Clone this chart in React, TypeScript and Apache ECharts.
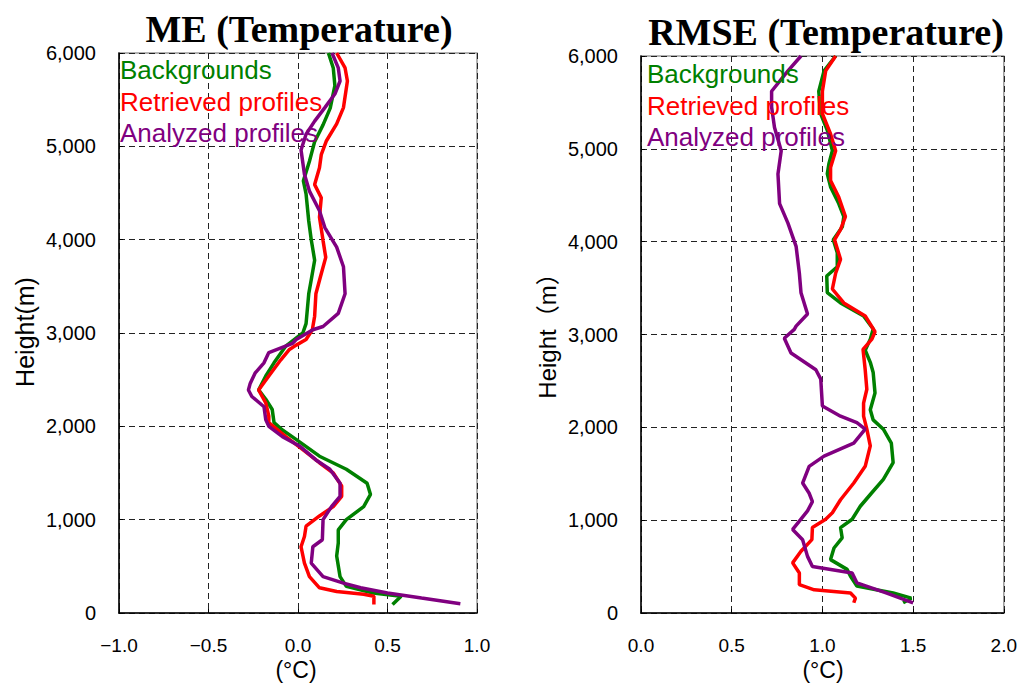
import React, { useEffect, useRef } from "react";
import * as echarts from "echarts";

// Profiles: [temperature statistic (°C), height (m)], top to bottom
const meBackgrounds: [number, number][] = [
  [0.17, 6000], [0.197, 5840], [0.206, 5650], [0.18, 5410], [0.14, 5230], [0.093, 5050],
  [0.064, 4840], [0.03, 4630], [0.045, 4490], [0.06, 4200], [0.074, 4000], [0.093, 3780],
  [0.074, 3570], [0.06, 3420], [0.045, 3100], [0.027, 3000], [-0.068, 2860], [-0.134, 2680],
  [-0.18, 2540], [-0.22, 2390], [-0.18, 2290], [-0.144, 2180], [-0.134, 2040], [-0.087, 1960],
  [-0.011, 1860], [0.12, 1680], [0.27, 1540], [0.386, 1390], [0.405, 1270], [0.367, 1140],
  [0.27, 1000], [0.225, 890], [0.225, 750], [0.216, 610], [0.235, 390], [0.27, 285],
  [0.42, 215], [0.576, 180], [0.528, 90],
];
const meRetrieved: [number, number][] = [
  [0.216, 6000], [0.263, 5840], [0.276, 5700], [0.254, 5415], [0.216, 5240], [0.159, 5060],
  [0.13, 4910], [0.12, 4770], [0.093, 4590], [0.13, 4450], [0.12, 4240], [0.14, 3990],
  [0.155, 3810], [0.125, 3600], [0.1, 3420], [0.093, 3180], [0.08, 3035], [0.045, 2930],
  [-0.01, 2870], [-0.05, 2820], [-0.097, 2710], [-0.163, 2540], [-0.22, 2390], [-0.18, 2250],
  [-0.163, 2110], [-0.163, 2040], [-0.068, 1890], [0.027, 1750], [0.12, 1610], [0.197, 1500],
  [0.244, 1360], [0.244, 1250], [0.197, 1140], [0.12, 1040], [0.045, 930], [0.036, 820],
  [0.017, 710], [0.036, 535], [0.064, 390], [0.12, 270], [0.216, 230], [0.367, 200],
  [0.424, 180], [0.424, 90],
];
const meAnalyzed: [number, number][] = [
  [0.19, 6000], [0.225, 5840], [0.235, 5700], [0.206, 5560], [0.15, 5415], [0.093, 5270],
  [0.045, 5130], [0.017, 4960], [0.036, 4700], [0.064, 4520], [0.12, 4310], [0.15, 4130],
  [0.216, 3920], [0.254, 3710], [0.263, 3420], [0.225, 3210], [0.14, 3070], [0.083, 3035],
  [-0.01, 2930], [-0.03, 2890], [-0.163, 2790], [-0.19, 2680], [-0.24, 2570], [-0.267, 2460],
  [-0.277, 2390], [-0.258, 2320], [-0.19, 2210], [-0.18, 2070], [-0.163, 2000], [-0.087, 1890],
  [0.008, 1790], [0.1, 1640], [0.178, 1540], [0.235, 1390], [0.235, 1250], [0.187, 1140],
  [0.14, 1000], [0.136, 785], [0.083, 710], [0.074, 535], [0.14, 390], [0.254, 320],
  [0.35, 270], [0.5, 215], [0.69, 160], [0.907, 100],
];

const rmseBackgrounds: [number, number][] = [
  [1.073, 6000], [1.009, 5840], [0.98, 5620], [0.99, 5380], [1.027, 5200], [1.055, 4980],
  [1.036, 4840], [1.027, 4730], [1.045, 4590], [1.09, 4410], [1.118, 4270], [1.11, 4160],
  [1.06, 4020], [1.082, 3880], [1.082, 3730], [1.024, 3630], [1.027, 3450], [1.1, 3340],
  [1.227, 3200], [1.28, 3060], [1.264, 2950], [1.236, 2830], [1.264, 2700], [1.28, 2590],
  [1.29, 2370], [1.264, 2190], [1.28, 2080], [1.336, 1980], [1.38, 1830], [1.39, 1620],
  [1.336, 1440], [1.27, 1290], [1.209, 1150], [1.164, 1010], [1.1, 920], [1.109, 810],
  [1.064, 700], [1.045, 575], [1.136, 470], [1.155, 395], [1.19, 290], [1.39, 215],
  [1.49, 160], [1.445, 110],
];
const rmseRetrieved: [number, number][] = [
  [1.073, 6000], [1.018, 5840], [1.0, 5620], [1.0, 5380], [1.045, 5160], [1.073, 4980],
  [1.045, 4800], [1.045, 4660], [1.09, 4480], [1.127, 4270], [1.1, 4130], [1.067, 4020],
  [1.1, 3810], [1.073, 3660], [1.055, 3490], [1.118, 3340], [1.236, 3200], [1.29, 3030],
  [1.273, 2950], [1.224, 2840], [1.236, 2620], [1.245, 2410], [1.227, 2260], [1.227, 2120],
  [1.245, 1980], [1.264, 1800], [1.236, 1580], [1.173, 1400], [1.1, 1220], [1.055, 1080],
  [1.018, 1010], [0.945, 920], [0.942, 790], [0.882, 665], [0.836, 540], [0.873, 430],
  [0.873, 305], [0.955, 250], [1.155, 215], [1.182, 160], [1.173, 110],
];
const rmseAnalyzed: [number, number][] = [
  [0.882, 6000], [0.81, 5840], [0.72, 5620], [0.72, 5450], [0.736, 5230], [0.773, 4980],
  [0.755, 4730], [0.764, 4410], [0.81, 4200], [0.855, 3950], [0.873, 3660], [0.882, 3450],
  [0.918, 3220], [0.855, 3090], [0.845, 3055], [0.79, 2960], [0.827, 2800], [0.964, 2620],
  [0.991, 2520], [1.0, 2230], [1.1, 2120], [1.19, 2050], [1.236, 1980], [1.173, 1830],
  [1.009, 1690], [0.927, 1580], [0.891, 1400], [0.927, 1290], [0.945, 1200], [0.918, 1100],
  [0.873, 990], [0.836, 900], [0.891, 790], [0.918, 610], [0.945, 500], [1.164, 430],
  [1.19, 325], [1.355, 215], [1.5, 110],
];

const legendNames = ["Backgrounds", "Retrieved profiles", "Analyzed profiles"];
const colors = ["#008000", "#ff0000", "#800080"];

const sansFont = "'Liberation Sans', Arial, sans-serif";
const labelFont = "'Liberation Sans', 'Noto Sans CJK JP', sans-serif";
const titleFont = "'Liberation Serif', 'Times New Roman', serif";

function fmtX(v: number) {
  return v.toFixed(1).replace("-", "\u2212");
}
function fmtY(v: number) {
  return v.toLocaleString("en-US");
}

export default function App() {
  const ref = useRef<HTMLDivElement>(null);

  useEffect(() => {
    if (!ref.current) return;
    const chart = echarts.init(ref.current, undefined, { renderer: "svg" });

    const grids = [
      { left: 119, right: 543, top: 53, bottom: 71 },
      { left: 641, right: 14, top: 56, bottom: 71 },
    ];

    const common = {
      axisLine: { show: true, onZero: false, lineStyle: { color: "#000", width: 1.5 } },
      axisTick: { show: true, inside: true, length: 4, lineStyle: { color: "#000" } },
      splitLine: { show: true, lineStyle: { color: "#222", type: [6, 4], width: 1 } },
    };

    const xAxis = [
      { gridIndex: 0, min: -1, max: 1, interval: 0.5 },
      { gridIndex: 1, min: 0, max: 2, interval: 0.5 },
    ].map((a) => ({
      type: "value",
      ...a,
      ...common,
      axisLabel: { formatter: fmtX, fontFamily: sansFont, fontSize: 19, color: "#000", margin: 23 },
    }));

    const yAxis = [0, 1].map((i) => ({
      type: "value",
      gridIndex: i,
      min: 0,
      max: 6000,
      interval: 1000,
      ...common,
      axisLabel: { formatter: fmtY, fontFamily: sansFont, fontSize: 20, color: "#000", margin: 23 },
    }));

    const panels = [
      [meBackgrounds, meRetrieved, meAnalyzed],
      [rmseBackgrounds, rmseRetrieved, rmseAnalyzed],
    ];
    const series: any[] = [];
    panels.forEach((set, p) => {
      set.forEach((data, k) => {
        series.push({
          type: "line",
          name: legendNames[k],
          xAxisIndex: p,
          yAxisIndex: p,
          data,
          showSymbol: false,
          symbol: "none",
          lineStyle: { color: colors[k], width: 3.5 },
          z: 3 + k,
        });
      });
    });

    const legendTexts: any[] = [];
    [
      { x: 120, y: 70 },
      { x: 647, y: 74 },
    ].forEach((pos) => {
      legendNames.forEach((n, k) => {
        legendTexts.push({
          type: "text",
          x: pos.x,
          y: pos.y + k * 31.5,
          z: 10,
          style: {
            text: n,
            fill: colors[k],
            fontFamily: sansFont,
            fontSize: 26,
            textAlign: "left",
            textVerticalAlign: "middle",
          },
        });
      });
    });

    const textStyle = (text: string, family: string, size: number, extra: any = {}) => ({
      text,
      fontFamily: family,
      fontSize: size,
      fill: "#000",
      textAlign: "center",
      textVerticalAlign: "middle",
      ...extra,
    });

    const option = {
      animation: false,
      backgroundColor: "#fff",
      grid: grids.map((g) => ({ ...g, show: true, borderColor: "#999", borderWidth: 1.5 })),
      xAxis,
      yAxis,
      series,
      graphic: [
        { type: "text", x: 299, y: 29, style: textStyle("ME (Temperature)", titleFont, 38, { fontWeight: "bold" }) },
        { type: "text", x: 826, y: 32, style: textStyle("RMSE (Temperature)", titleFont, 38, { fontWeight: "bold" }) },
        { type: "text", x: 25, y: 332, rotation: Math.PI / 2, style: textStyle("Height(m)", labelFont, 25) },
        { type: "text", x: 547, y: 330, rotation: Math.PI / 2, style: textStyle("Height（m）", labelFont, 24) },
        { type: "text", x: 296, y: 670, style: textStyle("(°C)", sansFont, 23) },
        { type: "text", x: 823, y: 670, style: textStyle("(°C)", sansFont, 23) },
        ...legendTexts,
      ],
    };

    chart.setOption(option as any);
    return () => chart.dispose();
  }, []);

  return <div ref={ref} style={{ width: 1020, height: 684, position: "absolute", left: 0, top: 0 }} />;
}
